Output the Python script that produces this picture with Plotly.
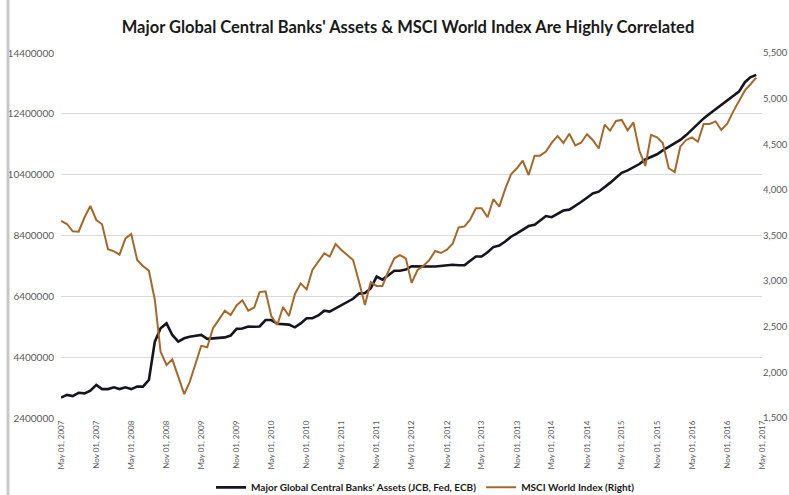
import pandas as pd
import plotly.graph_objects as go

months = pd.date_range("2007-05-01", periods=120, freq="MS")

assets_mn = [
    3.07, 3.16, 3.12, 3.23, 3.21, 3.30, 3.49, 3.35, 3.35, 3.41,
    3.35, 3.41, 3.35, 3.43, 3.43, 3.65, 4.91, 5.35, 5.51, 5.13,
    4.91, 5.02, 5.07, 5.10, 5.13, 5.00, 5.02, 5.04, 5.05, 5.11,
    5.33, 5.34, 5.41, 5.40, 5.41, 5.62, 5.62, 5.50, 5.49, 5.47,
    5.38, 5.51, 5.68, 5.68, 5.77, 5.93, 5.90, 6.00, 6.10, 6.20,
    6.32, 6.49, 6.51, 6.66, 7.05, 6.95, 7.10, 7.24, 7.24, 7.28,
    7.39, 7.38, 7.38, 7.38, 7.38, 7.40, 7.42, 7.44, 7.42, 7.42,
    7.56, 7.71, 7.71, 7.85, 8.02, 8.07, 8.20, 8.36, 8.47, 8.59,
    8.71, 8.75, 8.88, 9.04, 9.00, 9.12, 9.22, 9.25, 9.37, 9.50,
    9.64, 9.78, 9.84, 9.98, 10.13, 10.30, 10.46, 10.54, 10.64, 10.75,
    10.90, 10.99, 11.07, 11.20, 11.32, 11.42, 11.54, 11.70, 11.88, 12.08,
    12.25, 12.40, 12.55, 12.70, 12.85, 13.00, 13.13, 13.44, 13.60, 13.68,
]
assets = [v * 1_000_000 for v in assets_mn]

msci = [
    3660, 3626, 3546, 3542, 3700, 3824, 3670, 3623, 3349, 3327,
    3290, 3469, 3517, 3232, 3166, 3115, 2793, 2227, 2081, 2143,
    1953, 1762, 1890, 2081, 2291, 2275, 2483, 2578, 2676, 2629,
    2733, 2790, 2676, 2711, 2880, 2888, 2616, 2519, 2716, 2618,
    2860, 2976, 2910, 3122, 3210, 3305, 3268, 3407, 3341, 3286,
    3232, 2994, 2738, 2990, 2947, 2947, 3110, 3250, 3286, 3250,
    2980, 3122, 3165, 3230, 3330, 3308, 3345, 3410, 3588, 3600,
    3670, 3798, 3798, 3700, 3898, 3816, 4010, 4170, 4237, 4320,
    4163, 4375, 4375, 4419, 4514, 4591, 4514, 4615, 4487, 4517,
    4610, 4547, 4454, 4715, 4649, 4755, 4766, 4652, 4739, 4428,
    4262, 4602, 4576, 4514, 4237, 4195, 4473, 4547, 4576, 4528,
    4722, 4722, 4750, 4656, 4726, 4855, 4975, 5090, 5155, 5230,
]

left_ticks = [2400000, 4400000, 6400000, 8400000, 10400000, 12400000, 14400000]
right_ticks = [1500, 2000, 2500, 3000, 3500, 4000, 4500, 5000, 5500]
x_ticks = pd.date_range("2007-05-01", "2017-05-01", freq="6MS")

FONT = "Lato, Liberation Sans, sans-serif"

fig = go.Figure()
fig.add_trace(go.Scatter(
    x=months, y=assets, name="Major Global Central Banks' Assets (JCB, Fed, ECB)",
    mode="lines", line=dict(color="#15151f", width=2.6), yaxis="y",
))
fig.add_trace(go.Scatter(
    x=months, y=msci, name="MSCI World Index (Right)",
    mode="lines", line=dict(color="#a3692c", width=2), yaxis="y2",
))

fig.update_layout(
    template="none",
    width=789, height=495,
    margin=dict(l=61, r=27, t=53, b=77, autoexpand=False),
    paper_bgcolor="white", plot_bgcolor="white",
    title=dict(
        text="<b>Major Global Central Banks' Assets & MSCI World Index Are Highly Correlated</b>",
        x=0.495, xanchor="center", xref="paper", y=0.945, yanchor="middle",
        font=dict(family=FONT, size=16.5, color="#1a1a1a"),
    ),
    showlegend=True,
    legend=dict(
        orientation="h", x=0.52, xanchor="center", y=-0.19, yanchor="middle",
        font=dict(family=FONT, size=10, color="#1a1a1a", weight="bold"),
        bgcolor="rgba(0,0,0,0)", itemwidth=30,
    ),
    xaxis=dict(
        type="date", range=["2007-05-01", "2017-05-01"], automargin=False,
        tickvals=list(x_ticks), tickformat="%b %d, %Y", tickangle=-90,
        tickfont=dict(family=FONT, size=8, color="#595959"),
        showgrid=False, showline=False, zeroline=False, ticks="",
    ),
    yaxis=dict(
        range=[2400000, 14400000], tickvals=left_ticks, tickformat="d",
        automargin=False,
        tickfont=dict(family=FONT, size=10, color="#595959"),
        showgrid=True, gridcolor="#d9d9d9", gridwidth=1,
        zeroline=False, showline=False, ticks="", ticklabelstandoff=6,
    ),
    yaxis2=dict(
        range=[1500, 5500], tickvals=right_ticks, tickformat=",",
        overlaying="y", side="right", automargin=False,
        tickfont=dict(family=FONT, size=9.5, color="#595959"),
        showgrid=False, zeroline=False, showline=False, ticks="",
    ),
    shapes=[dict(
        type="line", xref="paper", yref="paper",
        x0=-0.0756, x1=-0.0756, y0=-0.215, y1=1.15,
        line=dict(color="#c8c8c8", width=3),
    )],
)

fig.write_html(
    "out.html",
    config={"displayModeBar": False},
    post_script="document.body.style.margin='0';document.body.style.padding='0';",
)
